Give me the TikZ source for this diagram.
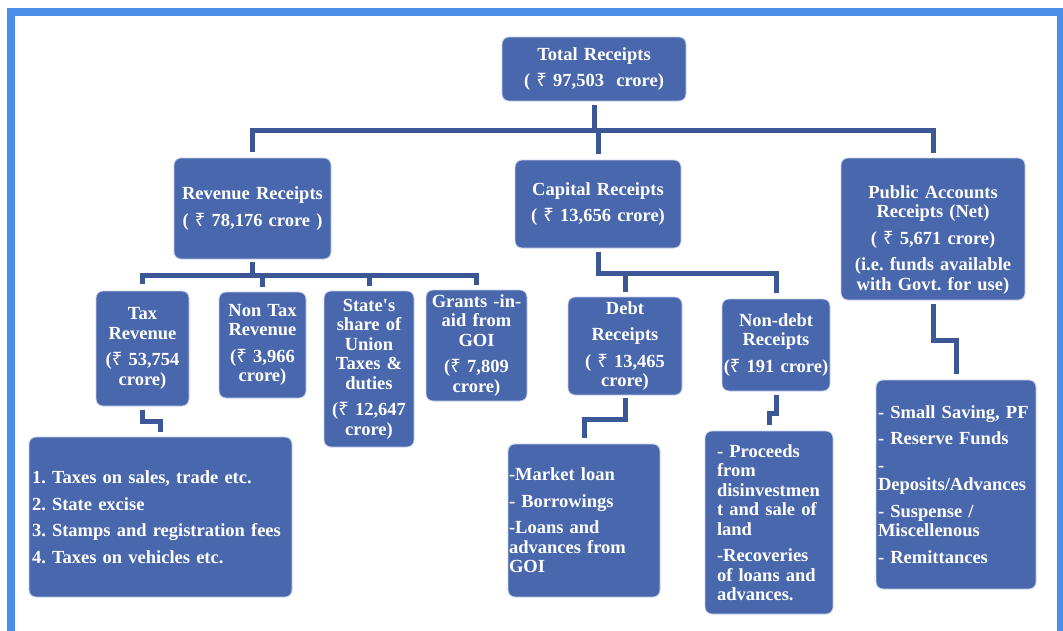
\documentclass[tikz,border=0pt]{standalone}
\usepackage{fontspec}
\setmainfont{Liberation Serif}
\newfontfamily\rupeefont{Noto Sans}
\newcommand{\rs}{{\rupeefont ₹}}
\frenchspacing

\definecolor{boxblue}{RGB}{73,103,172}
\definecolor{boxline}{RGB}{196,208,234}
\definecolor{connblue}{RGB}{60,87,150}
\definecolor{frameblue}{RGB}{74,144,233}

\tikzset{
  box/.style={fill=boxblue, draw=boxline, line width=0.8pt, rounded corners=7pt,
    text=white, inner xsep=2pt, inner ysep=0pt,
    font=\bfseries\fontsize{18.5}{19.5}\selectfont},
  ctr/.style={align=center},
  lst/.style={align=left, execute at begin node=\hyphenpenalty10000\relax},
  conn/.style={draw=connblue, line width=5pt},
  outerframe/.style={draw=frameblue, line width=8pt},
}

\begin{document}
\begin{tikzpicture}[x=1pt,y=-1pt]
\useasboundingbox (0,0) rectangle (1063,630);
\clip (0,0) rectangle (1063,630);

% Cadre
\draw[outerframe]
(11,640)
|- (1061,12)
-- (1061,640);

% Niveau 1
\node[box, ctr, text width=180pt, minimum height=64pt] (tot) at (594,69)
{Total Receipts\\[7pt]( \rs\ 97,503\ \ crore)};

% Niveau 2
\node[box, ctr, text width=153pt, minimum height=101pt] (rev) at (252.5,208.5)
{Revenue Receipts\\[7pt]( \rs\ 78,176 crore )};

\node[box, ctr, text width=162pt, minimum height=88pt] (cap) at (598,204)
{Capital Receipts\\[7pt]( \rs\ 13,656 crore)};

\node[box, ctr, text width=180pt, minimum height=142pt] (pub) at (933,229)
{\rule{0pt}{34pt}Public Accounts\\Receipts (Net)\\[7pt]( \rs\ 5,671 crore)\\[7pt](i.e. funds available\\with Govt. for use)};

% Niveau 3 : recettes courantes
\node[box, ctr, text width=89pt, minimum height=115pt] (tax) at (142.5,348.5)
{Tax\\Revenue\\[7pt](\rs\ 53,754\\crore)};

\node[box, ctr, text width=83pt, minimum height=106pt] (ntax) at (262.5,345)
{Non Tax\\Revenue\\[7pt](\rs\ 3,966\\crore)};

\node[box, ctr, text width=86pt, minimum height=156pt] (share) at (369,369)
{State\textquotesingle s\\share of\\Union\\Taxes \&\\duties\\[7pt](\rs\ 12,647\\crore)};

\node[box, ctr, text width=97pt, minimum height=111pt] (gia) at (476.5,345.5)
{Grants -in-\\aid from\\GOI\\[7pt](\rs\ 7,809\\crore)};

% Niveau 3 : recettes en capital
\node[box, ctr, text width=110pt, minimum height=98pt] (debt) at (625,346)
{Debt\\[7pt]Receipts\\[7pt]( \rs\ 13,465\\crore)};

\node[box, ctr, text width=108pt, inner xsep=0pt, minimum height=92pt] (ndebt) at (776,345)
{Non-debt\\Receipts\\[7pt]\mbox{(\rs\ 191 crore)}};

% Listes
\node[box, lst, text width=257pt, inner xsep=3pt, minimum height=160pt] (taxl) at (160.5,517)
{1. Taxes on sales, trade etc.\\[7pt]2. State excise\\[7pt]3. Stamps and registration fees\\[7pt]4. Taxes on vehicles etc.};

\node[box, lst, text width=150pt, inner xsep=1pt, minimum height=153pt] (debtl) at (584,520.5)
{-Market loan\\[7pt]- Borrowings\\[7pt]-Loans and\\advances from\\GOI};

\node[box, lst, text width=104pt, inner xsep=12pt, minimum height=183pt] (ndebtl) at (769,522.5)
{- Proceeds\\from\\disinvestmen\\t and sale of\\land\\[7pt]-Recoveries\\of loans and\\advances.};

\node[box, lst, text width=156pt, inner xsep=2pt, minimum height=209pt] (publ) at (956,484.5)
{- Small Saving, PF\\[7pt]- Reserve Funds\\[7pt]-\\Deposits/Advances\\[7pt]- Suspense /\\Miscellenous\\[7pt]- Remittances};

% Connecteurs
\coordinate (bar1) at (594,130);
\coordinate (bar2) at (252,275);
\coordinate (bar3) at (598,273.5);

\draw[conn]
([yshift=-4pt]tot.south)
-- (tot |- bar1);

\draw[conn]
([yshift=6pt]rev.north)
-- (rev |- bar1)
-- (pub |- bar1)
-- ([yshift=5pt]pub.north);

\draw[conn]
(cap |- bar1)
-- ([yshift=6pt]cap.north);

\draw[conn]
([yshift=-3pt]rev.south)
-- (rev |- bar2);

\draw[conn]
([yshift=7pt]tax.north)
-- (tax |- bar2)
-- (gia |- bar2)
-- ([yshift=5pt]gia.north);

\foreach \n in {ntax,share}
  \draw[conn] (\n |- bar2) -- ([yshift=5pt]\n.north);

\draw[conn]
([yshift=-4pt]cap.south)
-- (cap |- bar3)
-- (ndebt |- bar3)
-- ([yshift=6pt]ndebt.north);

\draw[conn]
(debt |- bar3)
-- ([yshift=5pt]debt.north);

\draw[conn]
([yshift=-4pt]tax.south)
-- ++(0,11)
-| ([yshift=5pt]taxl.north);

\draw[conn]
([yshift=-3pt]debt.south)
-- ++(0,21)
-| ([yshift=6pt]debtl.north);

\draw[conn]
([yshift=-4pt]ndebt.south)
-- ++(0,18)
-| ([yshift=6pt]ndebtl.north);

\draw[conn]
([yshift=-4pt]pub.south)
-- ++(0,36)
-| ([yshift=6pt]publ.north);

\end{tikzpicture}
\end{document}
